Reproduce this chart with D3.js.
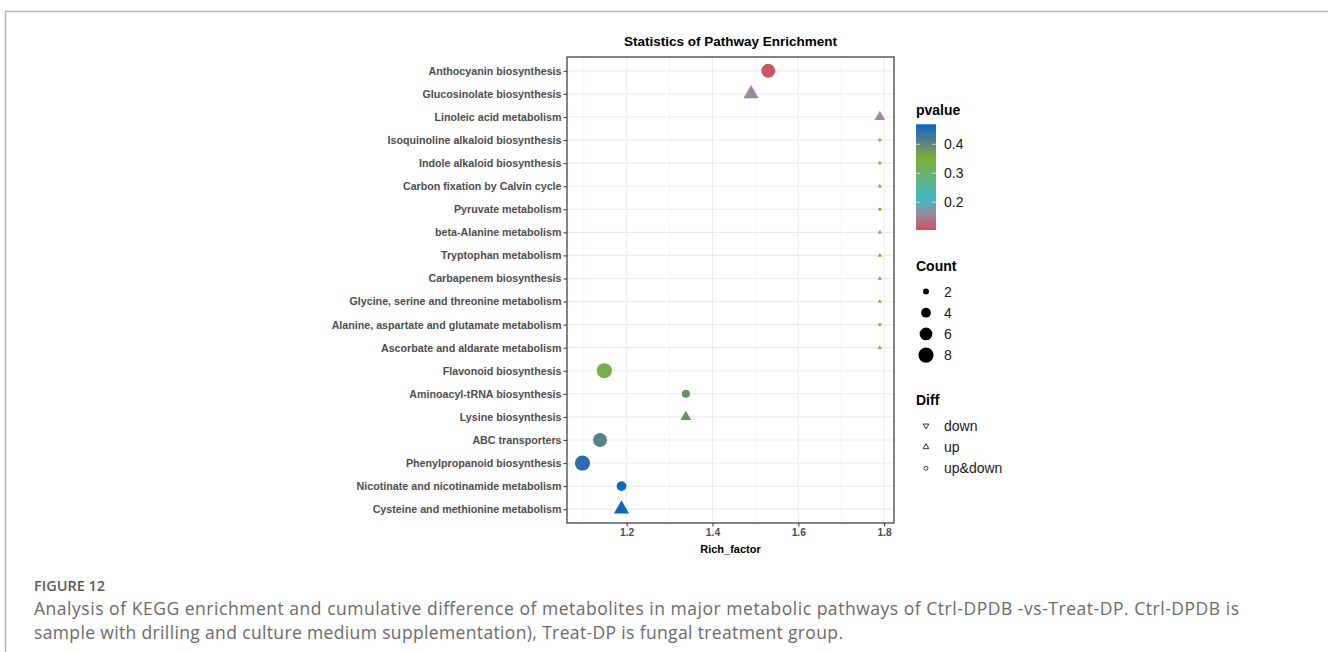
<!DOCTYPE html>
<meta charset="utf-8">
<script src="https://d3js.org/d3.v7.min.js"></script>
<style>
  body { margin: 0; background: #fff; }
  svg text { font-family: "Liberation Sans", Arial, sans-serif; }
  .cap { font-family: "Open Sans", sans-serif !important; }
</style>
<div id="my_dataviz"></div>
<script>

// ---- data ----
var pathways = [
  "Anthocyanin biosynthesis", "Glucosinolate biosynthesis", "Linoleic acid metabolism",
  "Isoquinoline alkaloid biosynthesis", "Indole alkaloid biosynthesis",
  "Carbon fixation by Calvin cycle", "Pyruvate metabolism", "beta-Alanine metabolism",
  "Tryptophan metabolism", "Carbapenem biosynthesis",
  "Glycine, serine and threonine metabolism", "Alanine, aspartate and glutamate metabolism",
  "Ascorbate and aldarate metabolism", "Flavonoid biosynthesis", "Aminoacyl-tRNA biosynthesis",
  "Lysine biosynthesis", "ABC transporters", "Phenylpropanoid biosynthesis",
  "Nicotinate and nicotinamide metabolism", "Cysteine and methionine metabolism"
];
var richFactor = [1.53, 1.49, 1.79, 1.79, 1.79, 1.79, 1.79, 1.79, 1.79, 1.79,
                  1.79, 1.79, 1.79, 1.148, 1.338, 1.338, 1.138, 1.097, 1.188, 1.188];
var pvalues = [0.11, 0.16, 0.16, 0.34, 0.34, 0.34, 0.34, 0.34, 0.34, 0.34,
               0.34, 0.34, 0.34, 0.33, 0.385, 0.385, 0.405, 0.445, 0.465, 0.465];
var counts = [7, 5, 3, 1, 1, 1, 1, 1, 1, 1, 1, 1, 1, 8, 3, 3, 7, 8, 4, 5];
var diffs = ["up&down", "up", "up", "down", "up&down", "up", "up&down", "up", "up", "up",
             "up", "up&down", "up", "up&down", "up&down", "up", "up&down", "up&down", "up&down", "up"];

var xTicks = [1.2, 1.4, 1.6, 1.8];
var xMinor = [1.1, 1.3, 1.5, 1.7];
var pTicks = [0.2, 0.3, 0.4];
var countLegend = [2, 4, 6, 8];
var diffLegend = ["down", "up", "up&down"];

var data = pathways.map(function(d, i) {
  return {name: d, rf: richFactor[i], p: pvalues[i], n: counts[i], diff: diffs[i]};
});

// ---- layout ----
var W = 1328, H = 652;
var panel = {left: 567, right: 894, top: 57, bottom: 523};

var svg = d3.select("#my_dataviz").append("svg")
  .attr("width", W).attr("height", H);

// figure frame
svg.append("path")
  .attr("d", "M5.5,652 V11.5 H1328")
  .attr("fill", "none").attr("stroke", "#b4b4b4").attr("stroke-width", 1.5);

var x = d3.scaleLinear().domain([1.061, 1.823]).range([panel.left, panel.right]);
var y = d3.scalePoint().domain(pathways).range([panel.top, panel.bottom]).padding(0.6);

var pMin = 0.104, pMax = 0.469;
var color = d3.scaleLinear()
  .domain([pMin, 0.16, 0.21, 0.35, 0.42, pMax])
  .range(["#d0505f", "#998b9d", "#40b7c9", "#80af35", "#4f7697", "#0867c2"]);

var r = d3.scaleSqrt().domain([1, 8]).range([1.6, 7.6]);

// grid
var g = svg.append("g");
g.selectAll(".minor").data(xMinor).enter().append("line")
  .attr("x1", function(d) { return x(d); }).attr("x2", function(d) { return x(d); })
  .attr("y1", panel.top).attr("y2", panel.bottom)
  .attr("stroke", "#f4f4f4").attr("stroke-width", 0.8);
g.selectAll(".major").data(xTicks).enter().append("line")
  .attr("x1", function(d) { return x(d); }).attr("x2", function(d) { return x(d); })
  .attr("y1", panel.top).attr("y2", panel.bottom)
  .attr("stroke", "#ebebeb").attr("stroke-width", 1.1);
g.selectAll(".hmajor").data(pathways).enter().append("line")
  .attr("x1", panel.left).attr("x2", panel.right)
  .attr("y1", function(d) { return y(d); }).attr("y2", function(d) { return y(d); })
  .attr("stroke", "#ebebeb").attr("stroke-width", 1.1);

// points
function shapePath(diff, size) {
  var area = Math.PI * size * size;
  if (diff == "up&down") return d3.symbol(d3.symbolCircle, area)();
  return d3.symbol(d3.symbolTriangle, area)();
}

svg.selectAll("mypoint")
  .data(data)
  .enter()
  .append("path")
    .attr("d", function(d) { return shapePath(d.diff, r(d.n)); })
    .attr("transform", function(d) {
      return "translate(" + x(d.rf) + "," + y(d.name) + ")" + (d.diff == "down" ? " rotate(180)" : "");
    })
    .attr("fill", function(d) { return color(d.p); });

// panel border
svg.append("rect")
  .attr("x", panel.left).attr("y", panel.top)
  .attr("width", panel.right - panel.left).attr("height", panel.bottom - panel.top)
  .attr("fill", "none").attr("stroke", "#444").attr("stroke-width", 1.3);

// y axis
var yAxis = svg.append("g")
  .attr("transform", "translate(" + panel.left + ",0)")
  .call(d3.axisLeft(y).tickSize(3.5).tickPadding(2));
yAxis.select(".domain").remove();
yAxis.selectAll("line").attr("stroke", "#444").attr("stroke-width", 1.1);
yAxis.selectAll("text")
  .attr("fill", "#4d4d4d").style("font-size", "10.7px").style("font-weight", "bold");

// x axis
var xAxis = svg.append("g")
  .attr("transform", "translate(0," + panel.bottom + ")")
  .call(d3.axisBottom(x).tickValues(xTicks).tickFormat(d3.format(".1f")).tickSize(3.5).tickPadding(2.5));
xAxis.select(".domain").remove();
xAxis.selectAll("line").attr("stroke", "#444").attr("stroke-width", 1.1);
xAxis.selectAll("text")
  .attr("fill", "#4d4d4d").style("font-size", "10.3px").style("font-weight", "bold");

svg.append("text")
  .attr("x", (panel.left + panel.right) / 2).attr("y", 553)
  .attr("text-anchor", "middle")
  .style("font-size", "11px").style("font-weight", "bold")
  .text("Rich_factor");

svg.append("text")
  .attr("x", (panel.left + panel.right) / 2).attr("y", 46)
  .attr("text-anchor", "middle")
  .style("font-size", "13.5px").style("font-weight", "bold")
  .text("Statistics of Pathway Enrichment");

// ---- legends ----
var lx = 916;

// pvalue colour bar
svg.append("text").attr("x", lx).attr("y", 115)
  .style("font-size", "14px").style("font-weight", "bold").text("pvalue");

var barTop = 124.3, barBottom = 230, barW = 20;
var py = d3.scaleLinear().domain([pMin, pMax]).range([barBottom, barTop]);

var grad = svg.append("defs").append("linearGradient")
  .attr("id", "pgrad").attr("x1", 0).attr("y1", 1).attr("x2", 0).attr("y2", 0);
d3.range(0, 1.0001, 0.05).forEach(function(t) {
  grad.append("stop").attr("offset", t)
    .attr("stop-color", color(pMin + t * (pMax - pMin)));
});
svg.append("rect")
  .attr("x", lx).attr("y", barTop).attr("width", barW).attr("height", barBottom - barTop)
  .attr("fill", "url(#pgrad)");

pTicks.forEach(function(v) {
  [[lx, lx + 4], [lx + barW - 4, lx + barW]].forEach(function(s) {
    svg.append("line").attr("x1", s[0]).attr("x2", s[1])
      .attr("y1", py(v)).attr("y2", py(v))
      .attr("stroke", "#fff").attr("stroke-opacity", 0.7).attr("stroke-width", 1);
  });
  svg.append("text").attr("x", lx + 28).attr("y", py(v)).attr("dy", "0.36em")
    .style("font-size", "14px").attr("fill", "#1a1a1a").text(v);
});

// Count legend
svg.append("text").attr("x", lx).attr("y", 271)
  .style("font-size", "14px").style("font-weight", "bold").text("Count");
countLegend.forEach(function(v, i) {
  var cy = 291.5 + i * 21.2;
  svg.append("circle").attr("cx", lx + 10).attr("cy", cy).attr("r", r(v)).attr("fill", "#000");
  svg.append("text").attr("x", lx + 28).attr("y", cy).attr("dy", "0.36em")
    .style("font-size", "14px").attr("fill", "#1a1a1a").text(v);
});

// Diff legend
svg.append("text").attr("x", lx).attr("y", 405)
  .style("font-size", "14px").style("font-weight", "bold").text("Diff");
diffLegend.forEach(function(v, i) {
  var cy = 425.7 + i * 21.3;
  var sym = v == "up&down" ? d3.symbol(d3.symbolCircle, 12)() : d3.symbol(d3.symbolTriangle, 14)();
  svg.append("path").attr("d", sym)
    .attr("transform", "translate(" + (lx + 10) + "," + cy + ")" + (v == "down" ? " rotate(180)" : ""))
    .attr("fill", "none").attr("stroke", "#222").attr("stroke-width", 0.9);
  svg.append("text").attr("x", lx + 28).attr("y", cy).attr("dy", "0.36em")
    .style("font-size", "14px").attr("fill", "#1a1a1a").text(v);
});

// ---- caption ----
svg.append("text").attr("class", "cap").attr("x", 34).attr("y", 591)
  .style("font-size", "14.5px").style("font-weight", "600").attr("fill", "#5a5a5a")
  .text("FIGURE 12");
svg.append("text").attr("class", "cap").attr("x", 34).attr("y", 615)
  .style("font-size", "17.5px").attr("fill", "#6a6a6a")
  .attr("textLength", 1205).attr("lengthAdjust", "spacing")
  .text("Analysis of KEGG enrichment and cumulative difference of metabolites in major metabolic pathways of Ctrl-DPDB -vs-Treat-DP. Ctrl-DPDB is");
svg.append("text").attr("class", "cap").attr("x", 34).attr("y", 639)
  .style("font-size", "17.5px").attr("fill", "#6a6a6a")
  .attr("textLength", 809).attr("lengthAdjust", "spacing")
  .text("sample with drilling and culture medium supplementation), Treat-DP is fungal treatment group.");

</script>
